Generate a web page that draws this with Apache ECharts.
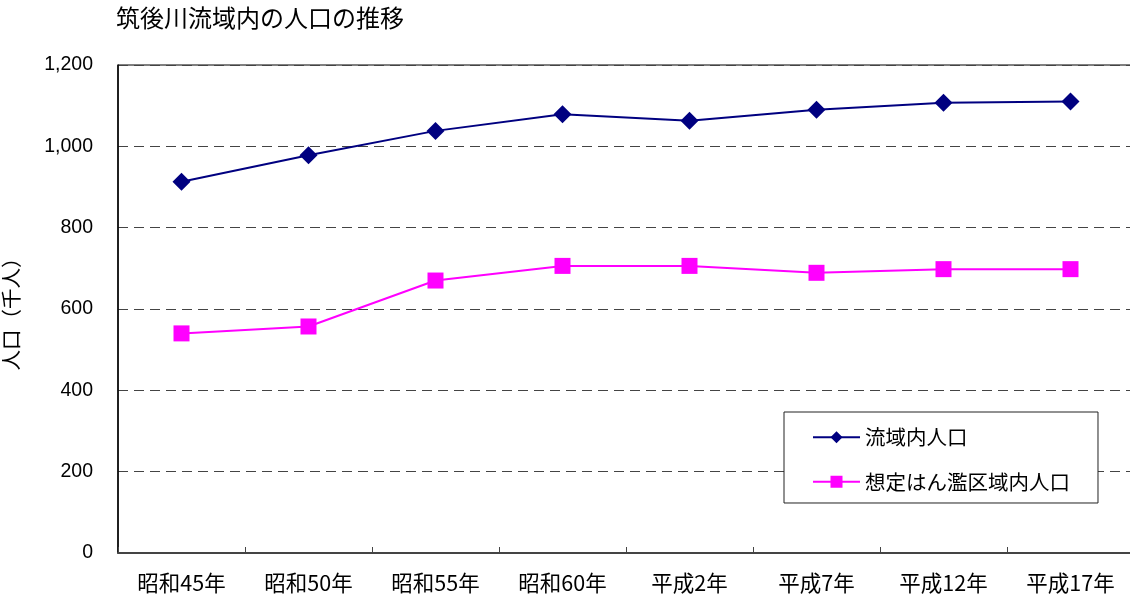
<!DOCTYPE html>
<html>
<head>
<meta charset="utf-8">
<script src="https://cdn.jsdelivr.net/npm/echarts@6/dist/echarts.min.js"></script>
<style>
  html, body { margin: 0; padding: 0; background: #fff; }
  #main { width: 1130px; height: 596px; }
</style>
</head>
<body>
<div id="main"></div>
<script>
// 年次
const years = ['昭和45年', '昭和50年', '昭和55年', '昭和60年', '平成2年', '平成7年', '平成12年', '平成17年']
// 流域内人口 (千人)
const basinPop = [913, 978, 1038, 1079, 1063, 1090, 1107, 1110]
// 想定はん濫区域内人口 (千人)
const floodPop = [540, 557, 670, 706, 706, 689, 698, 698]
const yTicks = [0, 200, 400, 600, 800, 1000, 1200]

const jp = '"Noto Sans CJK JP", sans-serif'

let myChart = echarts.init(document.getElementById('main'))

let option = {
  animation: false,
  title: {
    text: '筑後川流域内の人口の推移',
    left: 116,
    top: 6,
    padding: 0,
    textStyle: { fontFamily: jp, fontSize: 24, fontWeight: 'normal', color: '#000' },
  },
  legend: {
    orient: 'vertical',
    left: 784,
    top: 412,
    padding: [15, 28, 11, 28],
    itemWidth: 47,
    itemHeight: 15,
    itemGap: 24,
    backgroundColor: '#fff',
    borderColor: '#222',
    borderWidth: 1,
    borderRadius: 0,
    textStyle: { fontFamily: jp, fontSize: 20.5, lineHeight: 20, color: '#000' },
    data: ['流域内人口', '想定はん濫区域内人口'],
  },
  grid: {
    left: 118,
    right: -4,
    top: 65,
    bottom: 43,
    outerBoundsMode: 'none',
    show: true,
    borderColor: '#000',
    borderWidth: 1,
  },
  xAxis: {
    type: 'category',
    data: years,
    boundaryGap: true,
    axisLine: { lineStyle: { color: '#444', width: 2 } },
    axisTick: { show: true, inside: true, length: 6, lineStyle: { color: '#444' } },
    axisLabel: { fontFamily: jp, fontSize: 21.5, color: '#000', margin: 19 },
  },
  yAxis: {
    type: 'value',
    min: yTicks[0],
    max: yTicks[yTicks.length - 1],
    interval: 200,
    name: '人口（千人）',
    nameLocation: 'middle',
    nameGap: 97,
    nameTextStyle: { fontFamily: jp, fontSize: 20.5, color: '#000' },
    axisLine: { show: true, lineStyle: { color: '#000', width: 1.5 } },
    axisTick: { show: false },
    axisLabel: {
      fontFamily: '"Liberation Sans", Arial, sans-serif',
      fontSize: 19.5,
      color: '#000',
      margin: 25,
      formatter: v => v.toLocaleString('en-US'),
    },
    splitLine: { show: true, lineStyle: { color: '#444', type: [10, 6], width: 1 } },
  },
  series: [
    {
      name: '流域内人口',
      type: 'line',
      data: basinPop,
      symbol: 'diamond',
      symbolSize: [18, 18],
      itemStyle: { color: '#000080' },
      lineStyle: { color: '#000080', width: 2 },
    },
    {
      name: '想定はん濫区域内人口',
      type: 'line',
      data: floodPop,
      symbol: 'rect',
      symbolSize: 16,
      itemStyle: { color: '#ff00ff' },
      lineStyle: { color: '#ff00ff', width: 2 },
    },
  ],
}
myChart.setOption(option)
window.addEventListener('resize', () => {
  myChart.resize()
})
</script>
</body>
</html>
